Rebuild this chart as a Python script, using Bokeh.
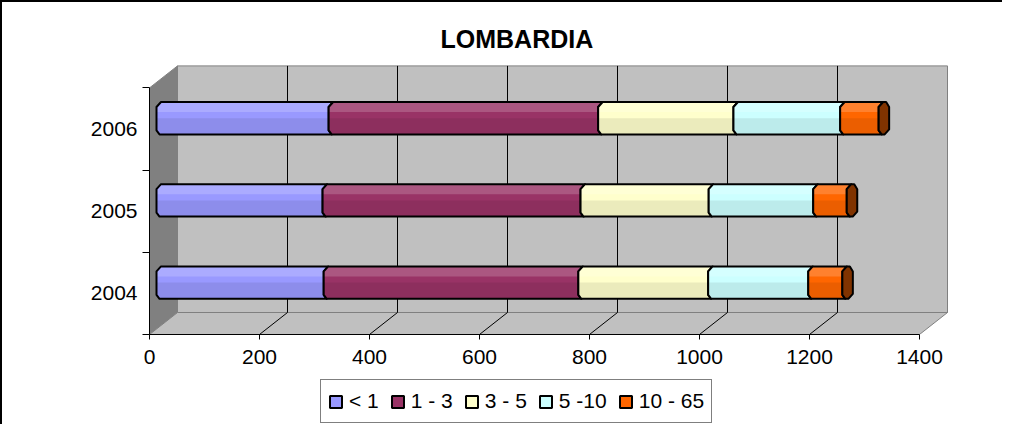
from bokeh.plotting import figure
from bokeh.layouts import column
from bokeh.models import Range1d, FixedTicker, Legend, LegendItem, ColumnDataSource
from bokeh.embed import file_html
from bokeh.resources import INLINE

# ---------------- data ----------------
years = ["2004", "2005", "2006"]
series = ["< 1", "1 - 3", "3 - 5", "5 -10", "10 - 65"]
v_lt1 = [304, 302, 313]
v_1_3 = [463, 469, 490]
v_3_5 = [236, 233, 246]
v_5_10 = [182, 190, 194]
v_10_65 = [62, 61, 70]
x_ticks = [0, 200, 400, 600, 800, 1000, 1200, 1400]

values = [v_lt1, v_1_3, v_3_5, v_5_10, v_10_65]
colors = ["#9999FF", "#993366", "#FFFFCC", "#CCFFFF", "#FF6600"]
cap_color = "#803300"

# ---------------- geometry (pixel -> data helpers) ----------------
PX = 0.55      # px per x unit
PY = 82.2      # px per category band
def ux(px):
    return px / PX
def uy(px):
    return px / PY

FRAME_W, FRAME_H = 809, 274
XMAX = x_ticks[-1]
y_lo, y_hi = -0.5, len(years) - 0.5
DX, DY = ux(28), uy(22)          # depth of the 3D box
BX, BY = ux(7), uy(10.8)         # depth offset of the bars
H = uy(16.2)                     # half bar thickness
bt, bvt = ux(4.5), uy(5)         # bevel top
bb, bvb = ux(3), uy(4)           # bevel bottom

W = 1000
p = figure(width=W, height=374,
           x_range=Range1d(0, FRAME_W / PX),
           y_range=Range1d(y_lo, y_lo + FRAME_H / PY),
           min_border_left=147, min_border_right=W - 147 - FRAME_W,
           min_border_top=58, min_border_bottom=374 - 58 - FRAME_H,
           output_backend="svg", toolbar_location=None)
p.outline_line_color = None
p.grid.visible = False
p.background_fill_color = "white"
p.border_fill_color = "white"

# ---------------- 3D walls ----------------
wall_gray = "#C0C0C0"
edge_gray = "#808080"
p.quad(left=[DX], right=[XMAX + DX], bottom=[y_lo + DY], top=[y_hi + DY],
       fill_color=wall_gray, line_color=edge_gray, line_width=1)
p.patch([0, DX, DX, 0], [y_lo, y_lo + DY, y_hi + DY, y_hi],
        fill_color="#808080", line_color=edge_gray, line_width=1)
p.patch([0, XMAX, XMAX + DX, DX], [y_lo, y_lo, y_lo + DY, y_lo + DY],
        fill_color=wall_gray, line_color=edge_gray, line_width=1)

inner = [t for t in x_ticks if 0 < t < XMAX]
p.segment(x0=[t + DX for t in inner], y0=[y_lo + DY] * len(inner),
          x1=[t + DX for t in inner], y1=[y_hi + DY] * len(inner),
          line_color="black", line_width=1)
p.segment(x0=inner, y0=[y_lo] * len(inner),
          x1=[t + DX for t in inner], y1=[y_lo + DY] * len(inner),
          line_color="black", line_width=1)

# ---------------- bars ----------------
def seg_poly(x0, x1, yc):
    yt, yb = yc + H, yc - H
    xs = [x0 + bt, x1 + bt, x1, x1, x1 + bb, x0 + bb, x0, x0]
    ys = [yt, yt, yt - bvt, yb + bvb, yb, yb, yb + bvb, yt - bvt]
    return xs, ys

def low_poly(x0, x1, yc):
    yb = yc - H
    xs = [x0, x1, x1, x1 + bb, x0 + bb, x0]
    ys = [yc, yc, yb + bvb, yb, yb, yb + bvb]
    return xs, ys

def high_poly(x0, x1, yc):
    yt = yc + H
    d = uy(10)
    xs = [x0 + bt, x1 + bt, x1, x1, x0, x0]
    ys = [yt, yt, yt - bvt, yt - d, yt - d, yt - bvt]
    return xs, ys

cum = [0.0] * len(years)
for k, vals in enumerate(values):
    P, L, Hh = {"xs": [], "ys": []}, {"xs": [], "ys": []}, {"xs": [], "ys": []}
    for i in range(len(years)):
        x0 = BX + cum[i]
        x1 = BX + cum[i] + vals[i]
        yc = i + BY
        xs, ys = seg_poly(x0, x1, yc)
        P["xs"].append(xs); P["ys"].append(ys)
        xs, ys = low_poly(x0, x1, yc)
        L["xs"].append(xs); L["ys"].append(ys)
        xs, ys = high_poly(x0, x1, yc)
        Hh["xs"].append(xs); Hh["ys"].append(ys)
        cum[i] += vals[i]
    src = ColumnDataSource(P)
    p.patches("xs", "ys", source=src, fill_color=colors[k], line_color=None)
    p.patches("xs", "ys", source=ColumnDataSource(Hh), fill_color="white",
              fill_alpha=0.18, line_color=None)
    p.patches("xs", "ys", source=ColumnDataSource(L), fill_color="black",
              fill_alpha=0.08, line_color=None)
    p.patches("xs", "ys", source=src, fill_color=None, line_color="black",
              line_width=2, line_join="round")

# end caps
cx, cy = [], []
for i in range(len(years)):
    x1 = BX + cum[i]
    yc = i + BY
    yt, yb = yc + H, yc - H
    cx.append([x1 + bt, x1 + ux(7.5), x1 + ux(10.5), x1 + ux(10.5),
               x1 + ux(6), x1 + bb, x1, x1])
    cy.append([yt, yt, yt - uy(5), yb + uy(5), yb, yb, yb + bvb, yt - bvt])
p.patches(cx, cy, fill_color=cap_color, line_color="black", line_width=2,
          line_join="round")

# ---------------- axes ----------------
font = "Liberation Sans"
xa = p.xaxis[0]
xa.ticker = FixedTicker(ticks=x_ticks)
xa.bounds = (0, XMAX)
xa.axis_line_color = "black"
xa.major_tick_out = 5
xa.major_tick_in = 0
xa.minor_tick_line_color = None
xa.major_label_standoff = 10
xa.major_label_text_font = font
xa.major_label_text_font_size = "21px"
xa.major_label_text_color = "black"

ya = p.yaxis[0]
ya.ticker = FixedTicker(ticks=list(range(len(years))),
                        minor_ticks=[i - 0.5 for i in range(len(years) + 1)])
ya.bounds = (y_lo, y_hi)
ya.major_label_overrides = {i: y for i, y in enumerate(years)}
ya.major_tick_line_color = None
ya.major_tick_out = 0
ya.major_tick_in = 0
ya.minor_tick_line_color = "black"
ya.minor_tick_out = 7
ya.minor_tick_in = 0
ya.major_label_standoff = 5
ya.major_label_text_font = font
ya.major_label_text_font_size = "21px"
ya.major_label_text_color = "black"

# ---------------- title ----------------
p.title.text = "LOMBARDIA"
p.title.align = "left"
p.title.offset = 291
p.title.text_font = font
p.title.text_font_size = "25px"
p.title.text_font_style = "bold"
p.title.text_color = "black"
p.title.standoff = 15

# ---------------- legend (own strip below the chart) ----------------
LH = 48
q = figure(width=W, height=LH, x_range=Range1d(0, 1), y_range=Range1d(0, 1),
           x_axis_location=None, y_axis_location=None,
           min_border=0, output_backend="svg", toolbar_location=None)
q.grid.visible = False
q.outline_line_color = None
q.background_fill_color = "white"
q.border_fill_color = "white"
leg_rs = []
for k in range(len(series)):
    # placeholder glyph (outside the visible range) that only feeds the legend swatch
    r = q.rect(x="x", y="y", width=0.01, height=0.01,
               source=ColumnDataSource(dict(x=[-5.0], y=[-5.0])),
               fill_color=colors[k], line_color="black", line_width=2)
    leg_rs.append(r)
legend = Legend(items=[LegendItem(label=s, renderers=[leg_rs[k]])
                       for k, s in enumerate(series)],
                orientation="horizontal", location=(171, 1),
                glyph_width=15, glyph_height=15, label_standoff=6, spacing=11,
                padding=7, label_height=28, margin=0,
                label_text_font=font, label_text_font_size="21px",
                label_text_color="black",
                border_line_color="black", border_line_width=1,
                background_fill_color="white", background_fill_alpha=1)
q.add_layout(legend)

layout = column(p, q, spacing=0,
                styles={"border-left": "2px solid #000", "border-top": "2px solid #000",
                        "border-right": "none", "border-bottom": "none",
                        "vertical-align": "top"})
open("out.html", "w").write(file_html(layout, INLINE))
